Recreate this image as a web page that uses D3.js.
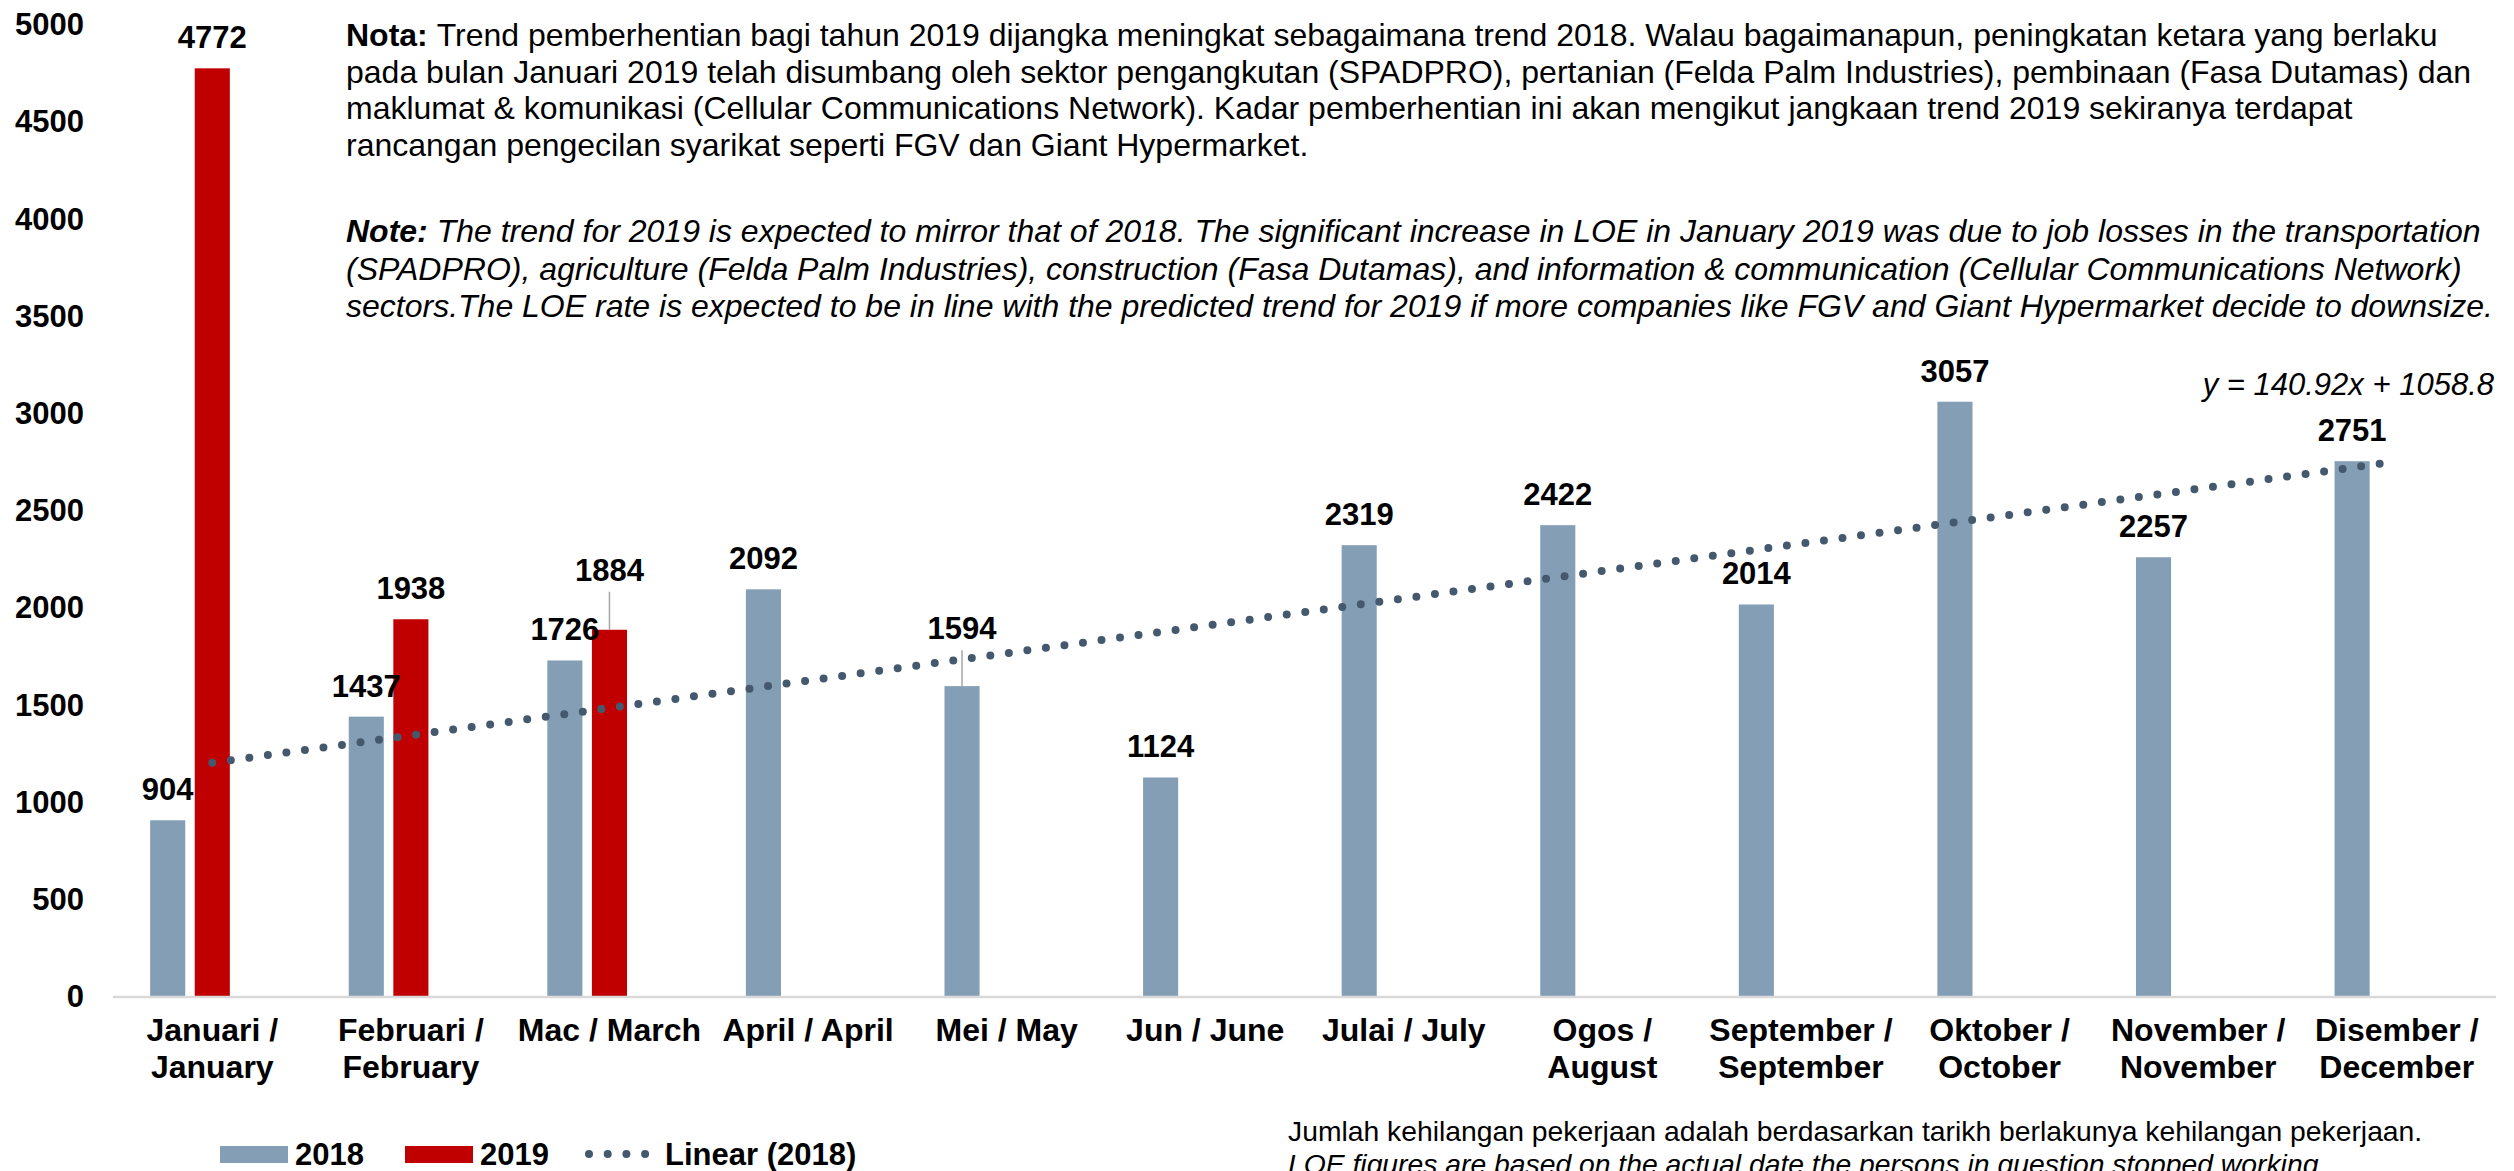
<!DOCTYPE html>
<html>
<head>
<meta charset="utf-8">
<script src="https://cdn.jsdelivr.net/npm/d3@7"></script>
<style>
  body { margin: 0; background: #fff; }
  text { font-family: "Liberation Sans", Arial, sans-serif; fill: #000; }
</style>
</head>
<body>
<div id="chart"></div>
<script>
// data
var months = ["Januari / January", "Februari / February", "Mac / March", "April / April",
              "Mei / May", "Jun / June", "Julai / July", "Ogos / August",
              "September / September", "Oktober / October", "November / November", "Disember / December"];
var years = ["2018", "2019"];
var loe2018 = [904, 1437, 1726, 2092, 1594, 1124, 2319, 2422, 2014, 3057, 2257, 2751];
var loe2019 = [4772, 1938, 1884];
var yTicks = [0, 500, 1000, 1500, 2000, 2500, 3000, 3500, 4000, 4500, 5000];
var trendName = "Linear (2018)";

var notaLines = [
  "Trend pemberhentian bagi tahun 2019 dijangka meningkat sebagaimana trend 2018. Walau bagaimanapun, peningkatan ketara yang berlaku",
  "pada bulan Januari 2019 telah disumbang oleh sektor pengangkutan (SPADPRO), pertanian (Felda Palm Industries), pembinaan (Fasa Dutamas) dan",
  "maklumat & komunikasi (Cellular Communications Network). Kadar pemberhentian ini akan mengikut jangkaan trend 2019 sekiranya terdapat",
  "rancangan pengecilan syarikat seperti FGV dan Giant Hypermarket."
];
var noteLines = [
  "The trend for 2019 is expected to mirror that of 2018. The significant increase in LOE in January 2019 was due to job losses in the transportation",
  "(SPADPRO), agriculture (Felda Palm Industries), construction (Fasa Dutamas), and information & communication (Cellular Communications Network)",
  "sectors.The LOE rate is expected to be in line with the predicted trend for 2019 if more companies like FGV and Giant Hypermarket decide to downsize."
];
var footLines = [
  "Jumlah kehilangan pekerjaan adalah berdasarkan tarikh berlakunya kehilangan pekerjaan.",
  "LOE figures are based on the actual date the persons in question stopped working."
];

var colors = { "2018": "#849FB5", "2019": "#C00000" },
    trendColor = "#44596D";

// labels moved up with a leader line (series, month index, lift in px)
var lifted = [ { year: "2018", i: 4, lift: 27 }, { year: "2019", i: 2, lift: 29 } ];

var width = 2514, height = 1171;

var svg = d3.select("#chart").append("svg")
  .attr("width", width)
  .attr("height", height);

//////////////////// scales ////////////////////
var x0 = d3.scaleBand()
  .domain(months)
  .range([113, 2496])
  .padding(0);

var x1 = d3.scaleBand()
  .domain(years.concat(["blank"]))
  .range([0, x0.bandwidth()])
  .paddingInner(0.213)
  .paddingOuter(0.833);

var y = d3.scaleLinear()
  .domain([0, 5000])
  .range([996, 24]);

var series = years.map(function(yr, k) {
  var vals = k === 0 ? loe2018 : loe2019;
  return vals.map(function(v, i) { return { year: yr, i: i, month: months[i], value: v }; });
});

//////////////////// y axis labels ////////////////////
svg.append("g").selectAll("text")
  .data(yTicks)
  .enter().append("text")
  .attr("x", 84)
  .attr("y", function(d) { return y(d); })
  .attr("dy", "0.36em")
  .attr("text-anchor", "end")
  .style("font-size", "31px")
  .style("font-weight", "bold")
  .text(function(d) { return d; });

//////////////////// bars ////////////////////
var bars = svg.append("g");
series.forEach(function(s) {
  bars.selectAll("rect.b" + s[0].year)
    .data(s)
    .enter().append("rect")
    .attr("class", "b" + s[0].year)
    .attr("x", function(d) { return x0(d.month) + x1(d.year); })
    .attr("y", function(d) { return y(d.value); })
    .attr("width", x1.bandwidth())
    .attr("height", function(d) { return y(0) - y(d.value); })
    .style("fill", colors[s[0].year]);
});

// x axis line
svg.append("line")
  .attr("x1", x0.range()[0]).attr("x2", x0.range()[1])
  .attr("y1", y(0) + 1).attr("y2", y(0) + 1)
  .style("stroke", "#D9D9D9")
  .style("stroke-width", 2.5);

//////////////////// trend line ////////////////////
var n = loe2018.length,
    mx = d3.mean(d3.range(1, n + 1)),
    my = d3.mean(loe2018),
    slope = d3.sum(loe2018, function(v, i) { return (i + 1 - mx) * (v - my); }) /
            d3.sum(d3.range(1, n + 1), function(k) { return (k - mx) * (k - mx); }),
    intercept = my - slope * mx;

var trendLine = d3.line()
  .x(function(d, i) { return x0(months[i]) + x0.bandwidth() / 2; })
  .y(function(d, i) { return y(slope * (i + 1) + intercept); });

svg.append("path")
  .datum(loe2018)
  .attr("d", trendLine)
  .style("fill", "none")
  .style("stroke", trendColor)
  .style("stroke-width", 8)
  .style("stroke-linecap", "round")
  .style("stroke-dasharray", "0 18.7");

svg.append("text")
  .attr("x", 2494)
  .attr("y", 395)
  .attr("text-anchor", "end")
  .style("font-size", "31px")
  .style("font-style", "italic")
  .text("y = " + d3.format(".2f")(slope) + "x + " + d3.format(".1f")(intercept));

//////////////////// value labels ////////////////////
var labels = svg.append("g");
series.forEach(function(s) {
  s.forEach(function(d) {
    var cx = x0(d.month) + x1(d.year) + x1.bandwidth() / 2,
        top = y(d.value),
        lift = 0;
    lifted.forEach(function(l) { if (l.year === d.year && l.i === d.i) lift = l.lift; });
    var base = top - 20 - lift;
    if (lift) {
      labels.append("line")
        .attr("x1", cx).attr("x2", cx)
        .attr("y1", base + 11).attr("y2", top)
        .style("stroke", "#A6A6A6")
        .style("stroke-width", 1.5);
    }
    labels.append("text")
      .attr("x", cx)
      .attr("y", base)
      .attr("text-anchor", "middle")
      .style("font-size", "31px")
      .style("font-weight", "bold")
      .text(d.value);
  });
});

//////////////////// x labels ////////////////////
var xl = svg.append("g").selectAll("text")
  .data(months)
  .enter().append("text")
  .attr("x", function(d) { return x0(d) + x0.bandwidth() / 2; })
  .attr("y", 1041)
  .attr("text-anchor", "middle")
  .style("font-size", "32px")
  .style("font-weight", "bold")
  .text(function(d) { return d; });

xl.each(function(d) {
  var t = d3.select(this);
  if (this.getComputedTextLength() > x0.bandwidth() - 6) {
    var parts = d.split(" / ");
    t.text(null);
    t.append("tspan").attr("x", t.attr("x")).text(parts[0] + " /");
    t.append("tspan").attr("x", t.attr("x")).attr("dy", 37).text(parts[1]);
  }
});

//////////////////// notes ////////////////////
var notes = svg.append("g");
notaLines.forEach(function(line, i) {
  var t = notes.append("text").attr("x", 346).attr("y", 46 + i * 36.7).style("font-size", "32px");
  if (i === 0) t.append("tspan").style("font-weight", "bold").text("Nota: ");
  t.append("tspan").text(line);
});
noteLines.forEach(function(line, i) {
  var t = notes.append("text").attr("x", 346).attr("y", 242 + i * 37.5)
    .style("font-size", "32px").style("font-style", "italic");
  if (i === 0) t.append("tspan").style("font-weight", "bold").text("Note: ");
  t.append("tspan").text(line);
});

var foot = svg.append("g").style("font-size", "28.3px");
footLines.forEach(function(line, i) {
  foot.append("text")
    .attr("x", 1288)
    .attr("y", 1141 + i * 33)
    .style("font-style", i === 1 ? "italic" : "normal")
    .text(line);
});

//////////////////// legend ////////////////////
var legend = svg.append("g");
var legX = [220, 405, 585];
years.forEach(function(yr, k) {
  legend.append("rect")
    .attr("x", legX[k]).attr("y", 1146)
    .attr("width", 68).attr("height", 17)
    .style("fill", colors[yr]);
  legend.append("text")
    .attr("x", legX[k] + 75).attr("y", 1165)
    .style("font-size", "31px")
    .style("font-weight", "bold")
    .text(yr);
});
legend.append("line")
  .attr("x1", legX[2] + 4).attr("x2", legX[2] + 64)
  .attr("y1", 1154).attr("y2", 1154)
  .style("stroke", trendColor)
  .style("stroke-width", 8)
  .style("stroke-linecap", "round")
  .style("stroke-dasharray", "0 18.7");
legend.append("text")
  .attr("x", legX[2] + 80).attr("y", 1165)
  .style("font-size", "31px")
  .style("font-weight", "bold")
  .text(trendName);
</script>
</body>
</html>
